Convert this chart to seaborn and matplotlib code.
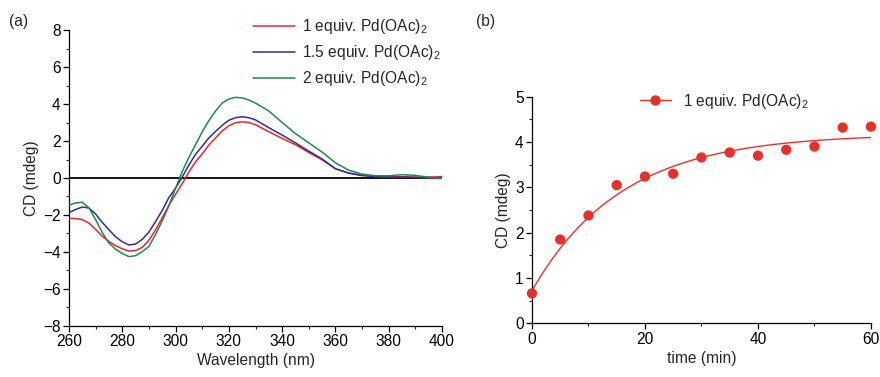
import numpy as np
import pandas as pd
import matplotlib
matplotlib.use("Agg")
import matplotlib.pyplot as plt
from matplotlib.ticker import MultipleLocator, FuncFormatter
from matplotlib.lines import Line2D
import seaborn as sns

# (a) CD spectra for different Pd(OAc)2 loadings
wavelength = [260, 262.5, 265, 267.5, 270, 272.5, 275, 277.5, 280, 282.5, 285,
              287.5, 290, 292.5, 295, 297.5, 300, 302.5, 305, 307.5, 310, 312.5,
              315, 317.5, 320, 322.5, 325, 327.5, 330, 335, 340, 345, 350, 355,
              360, 365, 370, 375, 380, 385, 390, 395, 400]
cd_1eq = [-2.18, -2.19, -2.25, -2.44, -2.78, -3.15, -3.43, -3.66, -3.83, -3.95,
          -3.92, -3.75, -3.37, -2.80, -2.15, -1.48, -0.88, -0.30, 0.32, 0.88,
          1.30, 1.78, 2.17, 2.55, 2.82, 2.99, 3.04, 3.00, 2.88, 2.50, 2.14,
          1.80, 1.38, 0.98, 0.50, 0.27, 0.15, 0.09, 0.06, 0.07, 0.05, 0.05, 0.07]
cd_15eq = [-1.87, -1.70, -1.57, -1.62, -1.95, -2.40, -2.80, -3.18, -3.45, -3.62,
           -3.57, -3.32, -2.92, -2.35, -1.75, -1.05, -0.55, 0.05, 0.70, 1.28,
           1.72, 2.17, 2.52, 2.85, 3.12, 3.26, 3.31, 3.26, 3.14, 2.72, 2.32,
           1.90, 1.45, 1.03, 0.50, 0.26, 0.13, 0.08, 0.05, 0.05, 0.03, -0.02,
           -0.02]
cd_2eq = [-1.46, -1.35, -1.31, -1.62, -2.25, -2.95, -3.52, -3.85, -4.08, -4.25,
          -4.20, -3.98, -3.70, -3.05, -2.32, -1.50, -0.55, 0.35, 1.12, 1.80,
          2.50, 3.10, 3.62, 4.05, 4.27, 4.36, 4.33, 4.22, 4.05, 3.62, 3.00,
          2.40, 1.90, 1.40, 0.82, 0.42, 0.21, 0.12, 0.12, 0.18, 0.14, 0.04,
          -0.02]
series_labels = [r"1 equiv. Pd(OAc)$_2$", r"1.5 equiv. Pd(OAc)$_2$",
                 r"2 equiv. Pd(OAc)$_2$"]
series_colors = ["#e8262b", "#2e2f9c", "#1f8a4c"]

# (b) CD signal vs. time with 1 equiv. Pd(OAc)2
time_min = [0, 5, 10, 15, 20, 25, 30, 35, 40, 45, 50, 55, 60]
cd_time = [0.66, 1.85, 2.38, 3.05, 3.24, 3.30, 3.66, 3.77, 3.70, 3.83, 3.90,
           4.32, 4.34]
# first-order growth fit: y = plateau - amplitude * exp(-rate * t)
fit_plateau = 4.18
fit_amplitude = 3.46
fit_rate = 0.063

sns.set_style("ticks")
plt.rcParams["font.family"] = ["Liberation Sans", "DejaVu Sans"]
plt.rcParams["mathtext.fontset"] = "custom"
plt.rcParams["mathtext.rm"] = "Liberation Sans"
plt.rcParams["mathtext.it"] = "Liberation Sans:italic"
FS = 11.2

fig = plt.figure(figsize=(8.8, 3.77), dpi=100)
ax1 = fig.add_axes([0.0784, 0.1353, 0.4239, 0.7851])
ax2 = fig.add_axes([0.6045, 0.1424, 0.3852, 0.6010])

spec = pd.DataFrame({
    "wavelength": wavelength * 3,
    "cd": cd_1eq + cd_15eq + cd_2eq,
    "sample": sum([[lab] * len(wavelength) for lab in series_labels], []),
})
ax1.axhline(0, color="black", lw=1.3, zorder=1)
sns.lineplot(data=spec, x="wavelength", y="cd", hue="sample",
             hue_order=series_labels, palette=series_colors, lw=1.1,
             ax=ax1, zorder=3)
ax1.set_xlim(260, 400)
ax1.set_ylim(-8, 8)
ax1.xaxis.set_major_locator(MultipleLocator(20))
ax1.xaxis.set_minor_locator(MultipleLocator(10))
ax1.yaxis.set_major_locator(MultipleLocator(2))
ax1.yaxis.set_minor_locator(MultipleLocator(1))
ax1.yaxis.set_major_formatter(
    FuncFormatter(lambda v, p: f"{int(round(v))}".replace("-", "\u2212")))
ax1.set_xlabel("Wavelength (nm)", fontsize=FS, labelpad=3)
ax1.set_ylabel("CD (mdeg)", fontsize=FS, labelpad=3)
ax1.legend(loc="upper right", bbox_to_anchor=(1.012, 1.065), frameon=False,
           fontsize=FS, handlelength=2.7, handletextpad=0.45,
           labelspacing=0.45, borderaxespad=0)
sns.despine(ax=ax1)

t_fit = np.linspace(0, 60, 200)
fit_df = pd.DataFrame({"t": t_fit,
                       "cd": fit_plateau - fit_amplitude * np.exp(-fit_rate * t_fit)})
pts = pd.DataFrame({"t": time_min, "cd": cd_time})
sns.lineplot(data=fit_df, x="t", y="cd", color="#e8302a", lw=1.0, ax=ax2)
sns.scatterplot(data=pts, x="t", y="cd", color="#e8302a", s=55,
                edgecolor="none", ax=ax2, zorder=4, clip_on=False)
ax2.set_xlim(0, 60)
ax2.set_ylim(0, 5)
ax2.xaxis.set_major_locator(MultipleLocator(20))
ax2.xaxis.set_minor_locator(MultipleLocator(10))
ax2.yaxis.set_major_locator(MultipleLocator(1))
ax2.yaxis.set_minor_locator(MultipleLocator(0.5))
ax2.set_xlabel("time (min)", fontsize=FS, labelpad=3)
ax2.set_ylabel("CD (mdeg)", fontsize=FS, labelpad=3)
h = Line2D([], [], color="#e8302a", lw=1.0, marker="o", markersize=7.5,
           markeredgecolor="none")
ax2.legend([h], [r"1 equiv. Pd(OAc)$_2$"], loc="upper left",
           bbox_to_anchor=(0.3, 1.05), frameon=False, fontsize=FS,
           handlelength=2.0, handletextpad=0.8, borderaxespad=0)
sns.despine(ax=ax2)

for ax in (ax1, ax2):
    for s in ("left", "bottom"):
        ax.spines[s].set_linewidth(0.9)
        ax.spines[s].set_color("black")
    ax.tick_params(which="major", direction="out", length=4, width=0.9,
                   labelsize=FS, colors="black", pad=2)
    ax.tick_params(which="minor", direction="out", length=2.5, width=0.8)

fig.text(0.010, 0.943, "(a)", fontsize=FS, va="center")
fig.text(0.541, 0.943, "(b)", fontsize=FS, va="center")

fig.savefig("out.png", dpi=100)
